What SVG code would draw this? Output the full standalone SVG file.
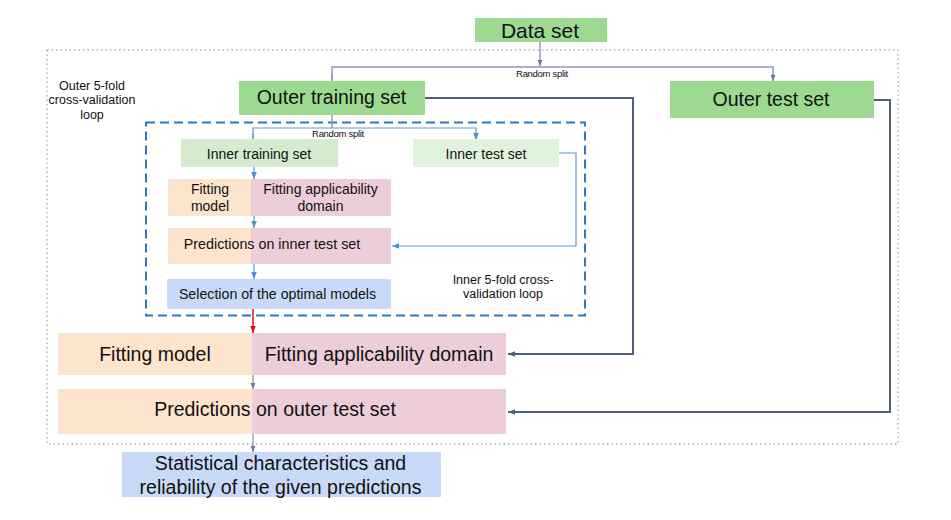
<svg xmlns="http://www.w3.org/2000/svg" width="951" height="520" viewBox="0 0 951 520">
<defs>
<style>
text{font-family:"Liberation Sans",Arial,sans-serif;fill:#111;text-anchor:middle}
.big{font-size:19.5px}
.mid{font-size:14px}
.lab{font-size:12.5px}
.tiny{font-size:9.5px;letter-spacing:-0.3px}
.green{fill:#9ed991}
.gin1{fill:#d4ebd0}
.gin2{fill:#e1f3dd}
.or{fill:#fde4cd}
.pk{fill:#edcdd9}
.bl{fill:#c9daf8}
.split{fill:none;stroke:#8e9db5;stroke-width:1.5}
.outc{fill:none;stroke:#4f5f79;stroke-width:2}
.inc{fill:none;stroke:#5b9bd5;stroke-width:1.2}
.gr{fill:none;stroke:#6a7a90;stroke-width:1}
</style>
<marker id="ag" viewBox="0 0 10 10" refX="10" refY="5" markerWidth="6" markerHeight="6" orient="auto" markerUnits="userSpaceOnUse"><path d="M0,1 L10,5 L0,9 z" fill="#6a7a90"/></marker>
<marker id="ab" viewBox="0 0 10 10" refX="10" refY="5" markerWidth="7" markerHeight="7" orient="auto" markerUnits="userSpaceOnUse"><path d="M0,1 L10,5 L0,9 z" fill="#4f8fd0"/></marker>
<marker id="ad" viewBox="0 0 10 10" refX="10" refY="5" markerWidth="7" markerHeight="7" orient="auto" markerUnits="userSpaceOnUse"><path d="M0,1 L10,5 L0,9 z" fill="#4f5f79"/></marker>
<marker id="ar" viewBox="0 0 10 10" refX="10" refY="5" markerWidth="7" markerHeight="7" orient="auto" markerUnits="userSpaceOnUse"><path d="M0,1 L10,5 L0,9 z" fill="#e01010"/></marker>
</defs>
<rect width="951" height="520" fill="#fff"/>

<g id="outer-loop">
<rect x="47" y="50" width="851" height="394" fill="none" stroke="#8a8a8a" stroke-width="1" stroke-dasharray="1.5 3"/>
<text class="lab" x="92" y="89.5">Outer 5-fold</text>
<text class="lab" x="92" y="104">cross-validation</text>
<text class="lab" x="92" y="118.5">loop</text>
</g>

<g id="inner-loop">
<rect x="146" y="122.5" width="439" height="193" fill="none" stroke="#2f78c4" stroke-width="2" stroke-dasharray="9 5"/>
<text class="lab" x="503" y="283.5">Inner 5-fold cross-</text>
<text class="lab" x="503" y="297.5">validation loop</text>
</g>

<g id="connectors">
<path class="split" d="M540,42 V66" marker-end="url(#ag)"/>
<path class="split" d="M332,81 V67 H773 V81"/>
<path d="M332,74 V81 M773,74 V81" class="split" marker-end="url(#ag)"/>
<text class="tiny" x="542" y="77">Random split</text>
<path class="outc" d="M425,98 H633 V354 H508" marker-end="url(#ad)"/>
<path class="outc" d="M874,100 H890 V412 H508" marker-end="url(#ad)"/>
<path class="split" d="M332,115 V128"/>
<path class="inc" d="M253,140 V128 H476 V140"/>
<path class="inc" d="M253,133 V140 M476,133 V140" marker-end="url(#ab)"/>
<text class="tiny" x="338" y="137">Random split</text>
<path class="inc" d="M254,167 V179" marker-end="url(#ab)"/>
<path class="inc" d="M254,216 V228" marker-end="url(#ab)"/>
<path class="inc" d="M254,264 V279" marker-end="url(#ab)"/>
<path class="inc" d="M559,153 H576 V246 H392" marker-end="url(#ab)"/>
<path d="M253,309 V333" fill="none" stroke="#e01010" stroke-width="1.5" marker-end="url(#ar)"/>
<path class="gr" d="M253,375 V389" marker-end="url(#ag)"/>
<path class="gr" d="M253,434 V452" marker-end="url(#ag)"/>
</g>

<g id="data-set">
<rect class="green" x="475" y="18" width="132" height="24"/>
<text x="540" y="38" style="font-size:21px">Data set</text>
</g>

<g id="outer-training-set">
<rect class="green" x="239" y="81" width="186" height="34"/>
<text class="big" x="331.5" y="104">Outer training set</text>
</g>

<g id="outer-test-set">
<rect class="green" x="670" y="81" width="204" height="37"/>
<text class="big" x="771" y="106">Outer test set</text>
</g>

<g id="inner-training-set">
<rect class="gin1" x="181" y="139" width="157" height="28"/>
<text class="mid" x="259" y="159">Inner training set</text>
</g>

<g id="inner-test-set">
<rect class="gin2" x="413" y="139" width="146" height="28"/>
<text class="mid" x="486" y="159">Inner test set</text>
</g>

<g id="inner-fitting">
<rect class="or" x="168" y="179" width="83" height="37"/>
<rect class="pk" x="251" y="179" width="140" height="37"/>
<text class="mid" x="210" y="194">Fitting</text>
<text class="mid" x="210" y="211">model</text>
<text class="mid" x="320.5" y="194">Fitting applicability</text>
<text class="mid" x="320.5" y="211">domain</text>
</g>

<g id="inner-predictions">
<rect class="or" x="168" y="228" width="83" height="36"/>
<rect class="pk" x="251" y="228" width="140" height="36"/>
<text class="mid" x="272" y="249" style="font-size:14.3px">Predictions on inner test set</text>
</g>

<g id="selection">
<rect class="bl" x="167" y="279" width="224" height="30"/>
<text class="mid" x="277.5" y="299" style="font-size:14.2px">Selection of the optimal models</text>
</g>

<g id="outer-fitting">
<rect class="or" x="58" y="333" width="194" height="42"/>
<rect class="pk" x="252" y="333" width="254" height="42"/>
<text class="big" x="155" y="361">Fitting model</text>
<text class="big" x="379" y="361">Fitting applicability domain</text>
</g>

<g id="outer-predictions">
<rect class="or" x="58" y="389" width="194" height="45"/>
<rect class="pk" x="252" y="389" width="254" height="45"/>
<text class="big" x="275" y="416">Predictions on outer test set</text>
</g>

<g id="statistics">
<rect class="bl" x="122" y="452" width="319" height="45"/>
<text class="big" x="280.5" y="470">Statistical characteristics and</text>
<text class="big" x="280.5" y="494">reliability of the given predictions</text>
</g>
</svg>
